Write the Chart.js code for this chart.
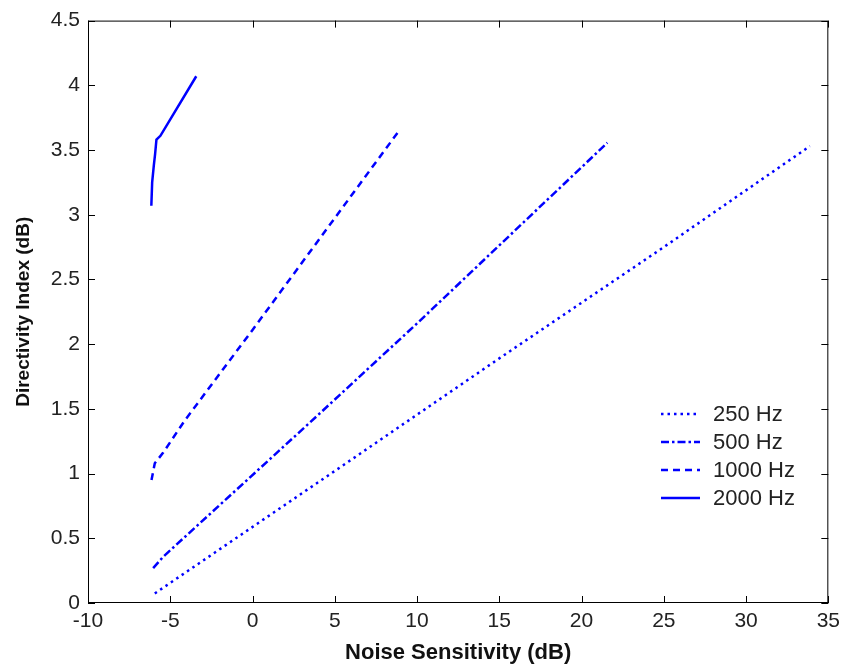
<!DOCTYPE html>
<html>
<head>
<meta charset="utf-8">
<script src="https://cdn.jsdelivr.net/npm/chart.js@4.4.1/dist/chart.umd.min.js"></script>
<style>
  html, body { margin: 0; padding: 0; background: #fff; }
  #wrap { width: 846px; height: 671px; }
</style>
</head>
<body>
<div id="wrap"><canvas id="dirChart" width="846" height="671"></canvas></div>
<script>
// series: noise sensitivity (dB) vs directivity index (dB)
const ns250 = [-5.94, 5.0, 15.0, 25.0, 33.88];
const di250 = [0.074, 1.02, 1.89, 2.75, 3.53];

const ns500 = [-6.04, -5.44, 3.45, 10.0, 21.57];
const di500 = [0.27, 0.356, 1.39, 2.16, 3.556];

const ns1000 = [-6.14, -5.94, -5.44, -4.12, 0.0, 8.97];
const di1000 = [0.95, 1.08, 1.16, 1.41, 2.11, 3.66];

const ns2000 = [-6.15, -6.1, -6.0, -5.92, -5.84, -5.6, -3.42];
const di2000 = [3.07, 3.25, 3.38, 3.47, 3.58, 3.61, 4.07];

const seriesNames = ['250 Hz', '500 Hz', '1000 Hz', '2000 Hz'];
const xTicks = [-10, -5, 0, 5, 10, 15, 20, 25, 30, 35];
const yTicks = [0, 0.5, 1, 1.5, 2, 2.5, 3, 3.5, 4, 4.5];

const blue = '#0000ff';
const tickFont = { family: '"Liberation Sans", Arial, sans-serif', size: 21 };
const titleFam = '"Liberation Sans", Arial, sans-serif';

function toPts(xs, ys) {
    return xs.map((x, i) => ({ x: x, y: ys[i] }));
}

function mkSet(label, xs, ys, dash) {
    return {
        label: label,
        data: toPts(xs, ys),
        showLine: true,
        borderColor: blue,
        backgroundColor: blue,
        borderWidth: 2.5,
        borderDash: dash,
        pointRadius: 0,
        tension: 0
    };
}

// inward tick marks, box frame and the legend (no box, lower right)
const framePlugin = {
    id: 'frame',
    afterDraw(chart) {
        const ctx = chart.ctx;
        const a = chart.chartArea;
        const xs = chart.scales.x, ys = chart.scales.y;
        ctx.save();
        ctx.strokeStyle = '#000';
        ctx.lineWidth = 1;
        ctx.setLineDash([]);
        ctx.strokeRect(a.left + 0.5, a.top + 0.5, a.right - a.left - 1, a.bottom - a.top - 1);
        ctx.beginPath();
        xTicks.forEach(v => {
            const p = Math.round(xs.getPixelForValue(v)) + 0.5;
            ctx.moveTo(p, a.bottom); ctx.lineTo(p, a.bottom - 7);
            ctx.moveTo(p, a.top); ctx.lineTo(p, a.top + 7);
        });
        yTicks.forEach(v => {
            const p = Math.round(ys.getPixelForValue(v)) + 0.5;
            ctx.moveTo(a.left, p); ctx.lineTo(a.left + 7, p);
            ctx.moveTo(a.right, p); ctx.lineTo(a.right - 7, p);
        });
        ctx.stroke();

        // legend
        const lx = 661, tx = 713;
        const rows = [414, 442, 470, 498];
        ctx.font = '22px "Liberation Sans", Arial, sans-serif';
        ctx.textBaseline = 'middle';
        chart.data.datasets.forEach((ds, i) => {
            ctx.strokeStyle = blue;
            ctx.lineWidth = 2.5;
            ctx.setLineDash(ds.borderDash);
            ctx.beginPath();
            ctx.moveTo(lx, rows[i]);
            ctx.lineTo(lx + 39, rows[i]);
            ctx.stroke();
            ctx.setLineDash([]);
            ctx.fillStyle = '#222';
            ctx.fillText(ds.label, tx, rows[i] + 1);
        });
        ctx.restore();
    }
};

const chart = new Chart(document.getElementById('dirChart').getContext('2d'), {
    type: 'scatter',
    data: {
        datasets: [
            mkSet(seriesNames[0], ns250, di250, [2.5, 4]),
            mkSet(seriesNames[1], ns500, di500, [8, 3, 2.5, 3]),
            mkSet(seriesNames[2], ns1000, di1000, [7, 5]),
            mkSet(seriesNames[3], ns2000, di2000, [])
        ]
    },
    options: {
        responsive: false,
        animation: false,
        layout: { padding: { top: 18, right: 14, left: 0, bottom: 0 } },
        plugins: {
            legend: { display: false },
            tooltip: { enabled: false }
        },
        scales: {
            x: {
                type: 'linear',
                min: -10,
                max: 35,
                afterBuildTicks: s => { s.ticks = xTicks.map(v => ({ value: v })); },
                ticks: { font: tickFont, color: '#222', padding: 6, maxRotation: 0, callback: v => String(v) },
                grid: { display: false, drawTicks: false },
                border: { display: false },
                title: {
                    display: true,
                    text: 'Noise Sensitivity (dB)',
                    color: '#111',
                    font: { family: titleFam, size: 22, weight: 'bold' },
                    padding: { top: 0, bottom: 5 }
                },
                afterFit: s => { s.height = 68; }
            },
            y: {
                type: 'linear',
                min: 0,
                max: 4.5,
                afterBuildTicks: s => { s.ticks = yTicks.map(v => ({ value: v })); },
                ticks: { font: tickFont, color: '#222', padding: 8, callback: v => String(v) },
                grid: { display: false, drawTicks: false },
                border: { display: false },
                title: {
                    display: true,
                    text: 'Directivity Index (dB)',
                    color: '#111',
                    font: { family: titleFam, size: 19, weight: 'bold' },
                    padding: { top: 12, bottom: 0 }
                },
                afterFit: s => { s.width = 88; }
            }
        }
    },
    plugins: [framePlugin]
});
</script>
</body>
</html>
